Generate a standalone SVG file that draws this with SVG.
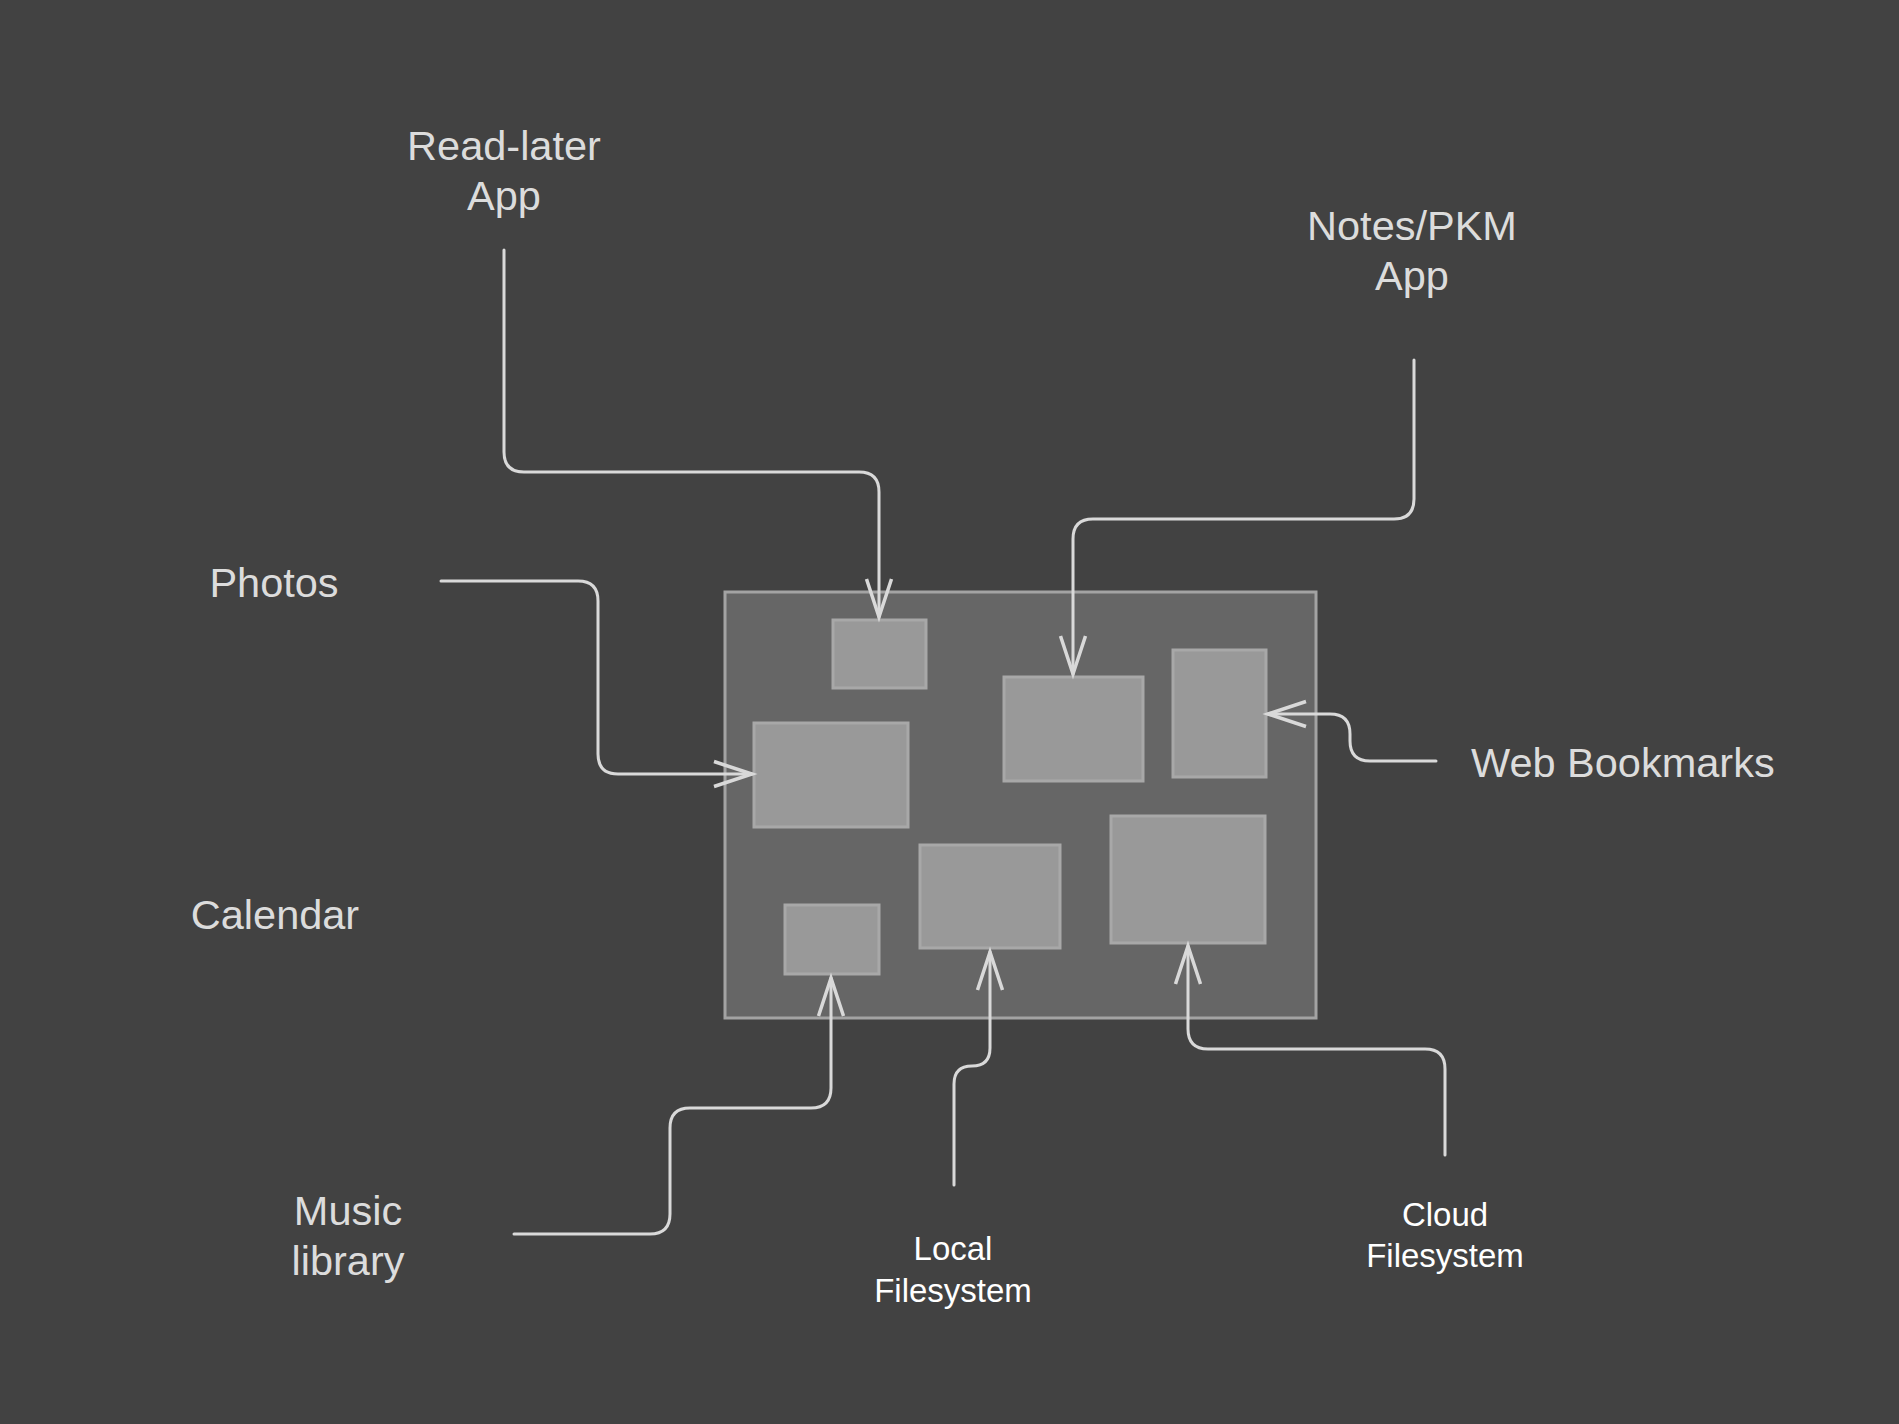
<svg xmlns="http://www.w3.org/2000/svg" width="1899" height="1424" viewBox="0 0 1899 1424">
<style>
.bg{fill:#424242}
.outer{fill:#666666;stroke:#a3a3a3;stroke-width:3}
.inner{fill:#999999;stroke:#a8a8a8;stroke-width:3}
.conn{fill:none;stroke:#d9d9d9;stroke-width:3;stroke-linecap:round}
.lbl{font-family:"Liberation Sans",Arial,sans-serif;font-size:41.5px;fill:#dcdcdc;text-anchor:middle}
.lbls{font-family:"Liberation Sans",Arial,sans-serif;font-size:33px;fill:#ffffff;text-anchor:middle}
</style>
<defs>
<marker id="arr" markerUnits="userSpaceOnUse" markerWidth="50" markerHeight="40" viewBox="-45 -20 50 40" refX="0" refY="0" orient="auto" overflow="visible">
<path d="M-38,-12.5 L0,0 L-38,12.5" fill="none" stroke="#d9d9d9" stroke-width="3.5"/>
</marker>
</defs>
<rect class="bg" x="0" y="0" width="1899" height="1424"/>
<g id="container"><rect class="outer" x="725" y="592" width="591" height="426"/></g>
<g id="box-readlater"><rect class="inner" x="833" y="620" width="93" height="68"/></g>
<g id="box-notes"><rect class="inner" x="1004" y="677" width="139" height="104"/></g>
<g id="box-web"><rect class="inner" x="1173" y="650" width="93" height="127"/></g>
<g id="box-photos"><rect class="inner" x="754" y="723" width="154" height="104"/></g>
<g id="box-music"><rect class="inner" x="785" y="905" width="94" height="69"/></g>
<g id="box-local"><rect class="inner" x="920" y="845" width="140" height="103"/></g>
<g id="box-cloud"><rect class="inner" x="1111" y="816" width="154" height="127"/></g>
<g id="connectors">
<path class="conn" marker-end="url(#arr)" d="M504,250 V452 Q504,472 524,472 H859 Q879,472 879,492 V617"/>
<path class="conn" marker-end="url(#arr)" d="M1414,360 V499 Q1414,519 1394,519 H1093 Q1073,519 1073,539 V674"/>
<path class="conn" marker-end="url(#arr)" d="M441,581 H578 Q598,581 598,601 V754 Q598,774 618,774 H752"/>
<path class="conn" marker-end="url(#arr)" d="M1436,761 H1370 Q1350,761 1350,741 V734 Q1350,714 1330,714 H1268"/>
<path class="conn" marker-end="url(#arr)" d="M514,1234 H650 Q670,1234 670,1214 V1128 Q670,1108 690,1108 H811 Q831,1108 831,1088 V978"/>
<path class="conn" marker-end="url(#arr)" d="M954,1185 V1084 Q954,1066 972,1066 Q990,1066 990,1048 V952"/>
<path class="conn" marker-end="url(#arr)" d="M1445,1155 V1069 Q1445,1049 1425,1049 H1208 Q1188,1049 1188,1029 V946"/>
</g>
<g id="readlater"><text class="lbl" x="504" y="160">Read-later</text><text class="lbl" x="504" y="210">App</text></g>
<g id="notes"><text class="lbl" x="1412" y="240">Notes/PKM</text><text class="lbl" x="1412" y="290">App</text></g>
<g id="photos"><text class="lbl" x="274" y="597">Photos</text></g>
<g id="calendar"><text class="lbl" x="275" y="929">Calendar</text></g>
<g id="web"><text class="lbl" x="1471" y="777" style="text-anchor:start">Web Bookmarks</text></g>
<g id="music"><text class="lbl" x="348" y="1225">Music</text><text class="lbl" x="348" y="1275">library</text></g>
<g id="local"><text class="lbls" x="953" y="1260">Local</text><text class="lbls" x="953" y="1302">Filesystem</text></g>
<g id="cloud"><text class="lbls" x="1445" y="1226">Cloud</text><text class="lbls" x="1445" y="1267">Filesystem</text></g>
</svg>
